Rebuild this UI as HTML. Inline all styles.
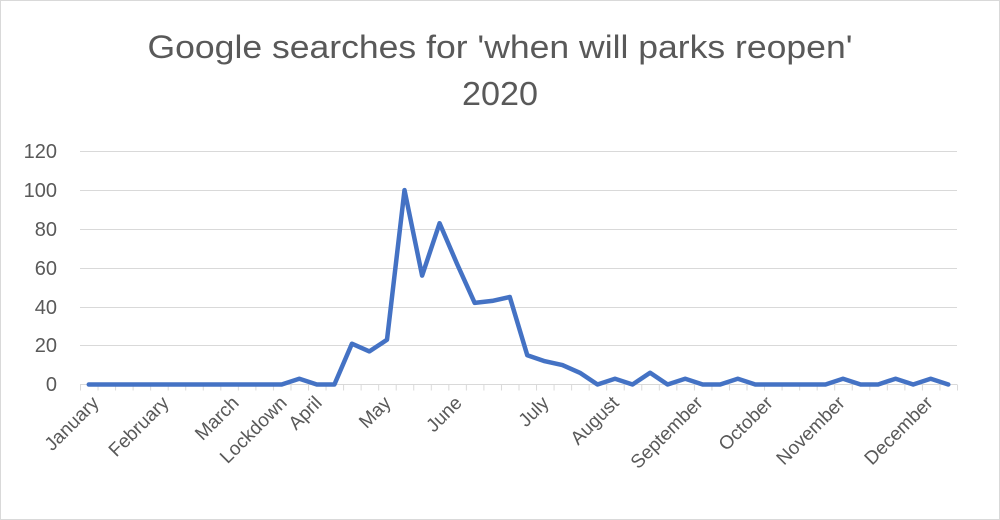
<!DOCTYPE html>
<html><head><meta charset="utf-8"><style>
html,body{margin:0;padding:0;background:#fff;}
svg{display:block;font-family:"Liberation Sans",sans-serif;}
</style></head><body>
<svg width="1000" height="520" viewBox="0 0 1000 520">
<defs>
<pattern id="tk" x="80" y="0" width="17.54" height="10" patternUnits="userSpaceOnUse">
<rect x="0" y="0" width="1" height="10" fill="#d9d9d9"/>
</pattern>
</defs>
<rect x="0.5" y="0.5" width="999" height="519" fill="#fff" stroke="#d9d9d9"/>
<text x="500" y="58" text-anchor="middle" font-size="32" fill="#595959" textLength="705" lengthAdjust="spacingAndGlyphs">Google searches for 'when will parks reopen'</text>
<text x="500" y="105" text-anchor="middle" font-size="33" fill="#595959" textLength="76" lengthAdjust="spacingAndGlyphs">2020</text>
<g stroke="#d9d9d9" stroke-width="1">
<line x1="80" x2="957" y1="151.5" y2="151.5"/>
<line x1="80" x2="957" y1="190.5" y2="190.5"/>
<line x1="80" x2="957" y1="229.5" y2="229.5"/>
<line x1="80" x2="957" y1="268.5" y2="268.5"/>
<line x1="80" x2="957" y1="307.5" y2="307.5"/>
<line x1="80" x2="957" y1="345.5" y2="345.5"/>
<line x1="80" x2="957" y1="384.5" y2="384.5"/>
</g>
<rect x="79.5" y="384.5" width="879" height="6" fill="url(#tk)"/>
<g font-size="20" fill="#595959" text-anchor="end">
<text x="57" y="158">120</text><text x="57" y="197">100</text><text x="57" y="236">80</text>
<text x="57" y="275">60</text><text x="57" y="314">40</text><text x="57" y="352">20</text><text x="57" y="391">0</text>
</g>
<g font-size="19" fill="#595959" text-anchor="end">
<text transform="translate(100,404) rotate(-45)">January</text>
<text transform="translate(170,404) rotate(-45)">February</text>
<text transform="translate(240,404) rotate(-45)">March</text>
<text transform="translate(288,404) rotate(-45)">Lockdown</text>
<text transform="translate(323,404) rotate(-45)">April</text>
<text transform="translate(392,404) rotate(-45)">May</text>
<text transform="translate(463,404) rotate(-45)">June</text>
<text transform="translate(550,404) rotate(-45)">July</text>
<text transform="translate(620,404) rotate(-45)">August</text>
<text transform="translate(704,404) rotate(-45)">September</text>
<text transform="translate(774,404) rotate(-45)">October</text>
<text transform="translate(846,404) rotate(-45)">November</text>
<text transform="translate(934,404) rotate(-45)">December</text>
</g>
<polyline fill="none" stroke="#4472c4" stroke-width="4.5" stroke-linejoin="round" stroke-linecap="round" points="88.8,384.5 106.3,384.5 123.9,384.5 141.4,384.5 159,384.5 176.5,384.5 194,384.5 211.6,384.5 229.1,384.5 246.7,384.5 264.2,384.5 281.7,384.5 299.3,378.7 316.8,384.5 334.4,384.5 351.9,343.7 369.4,351.4 387,339.8 404.5,190.1 422.1,275.6 439.6,223.2 457.1,264 474.7,302.9 492.2,300.9 509.8,297 527.3,355.3 544.8,361.2 562.4,365.1 579.9,372.8 597.5,384.5 615,378.7 632.5,384.5 650.1,372.8 667.6,384.5 685.2,378.7 702.7,384.5 720.2,384.5 737.8,378.7 755.3,384.5 772.9,384.5 790.4,384.5 807.9,384.5 825.5,384.5 843,378.7 860.6,384.5 878.1,384.5 895.6,378.7 913.2,384.5 930.7,378.7 948.3,384.5"/>
</svg>
</body></html>
